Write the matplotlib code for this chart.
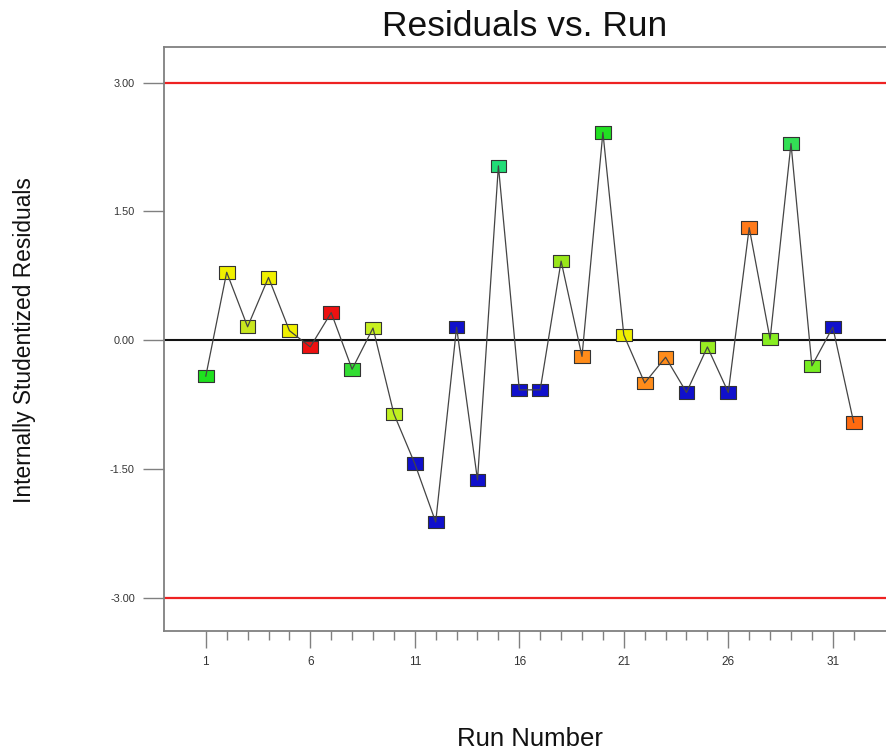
import matplotlib
matplotlib.use("Agg")
import matplotlib.pyplot as plt
import numpy as np

plt.rcParams['font.family'] = ['Liberation Sans', 'DejaVu Sans']

# Residus studentises internes par ordre d'essai
run = np.arange(1, 33)
residuals = [-0.42, 0.79, 0.155, 0.73, 0.11, -0.08, 0.32, -0.34, 0.14, -0.86,
             -1.44, -2.12, 0.15, -1.63, 2.03, -0.58, -0.58, 0.92, -0.19, 2.42,
             0.06, -0.50, -0.20, -0.61, -0.08, -0.61, 1.31, 0.01, 2.29, -0.30,
             0.15, -0.96]
point_colors = ["#1ee01e", "#f0f000", "#c8e61e", "#f0f000", "#f0f000",
                "#ee1111", "#ee1111", "#33dd33", "#c8f020", "#c0f020",
                "#1010cc", "#1010cc", "#1010cc", "#1010cc", "#22dd77",
                "#1010cc", "#1010cc", "#99e619", "#ff8c1a", "#22e022",
                "#f0f000", "#ff8c1a", "#ff8c1a", "#1010cc", "#99ee22",
                "#1010cc", "#ff7a1a", "#88ee22", "#33e055", "#77ee22",
                "#1010cc", "#ff6a10"]
limit = 3.00
y_ticks = [-3.00, -1.50, 0.00, 1.50, 3.00]
x_major = [1, 6, 11, 16, 21, 26, 31]

W, H = 886, 753
fig = plt.figure(figsize=(W / 100, H / 100), dpi=100)
fig.patch.set_facecolor("white")

# axe volontairement plus large que la figure (coupe a droite)
left, right, bottom, top = 164, 920, 631, 47
ax = fig.add_axes([left / W, 1 - bottom / H, (right - left) / W, (bottom - top) / H])
ax.set_xlim(-1.0, -1.0 + (right - left) / 20.9)
ax.set_ylim(-3.39, 3.415)

# limites +/- 3 et ligne zero
ax.axhline(limit, color="#ee2222", lw=1.6, zorder=1)
ax.axhline(-limit, color="#ee2222", lw=1.6, zorder=1)
ax.axhline(0, color="#111111", lw=1.5, zorder=1)

# marqueurs rectangulaires, trait par-dessus
rect = [(-1, -0.8), (1, -0.8), (1, 0.8), (-1, 0.8), (-1, -0.8)]
ax.scatter(run, residuals, marker=rect, s=11.3 ** 2, c=point_colors,
           edgecolors="#333333", linewidths=0.8, zorder=3)
ax.plot(run, residuals, color="#444444", lw=0.9, zorder=4)

for side in ["left", "bottom", "top", "right"]:
    ax.spines[side].set_color("#808080")
    ax.spines[side].set_linewidth(1.3)

ax.set_yticks(y_ticks)
ax.set_yticklabels([f"{v:.2f}" for v in y_ticks])
ax.set_xticks(x_major)
ax.set_xticklabels([str(v) for v in x_major])
ax.set_xticks([v for v in range(1, 33) if v not in x_major], minor=True)
ax.tick_params(axis="y", direction="out", length=15, width=1.0, color="#808080",
               labelsize=7.8, labelcolor="#333333", pad=6)
ax.tick_params(axis="x", which="major", direction="out", length=12, width=1.0,
               color="#808080", labelsize=8.5, labelcolor="#333333", pad=6)
ax.tick_params(axis="x", which="minor", direction="out", length=6.5, width=1.0,
               color="#808080")

fig.text(525 / W, 1 - 27 / H, "Residuals vs. Run", fontsize=25.5,
         ha="center", va="center", color="#111111")
fig.text(530 / W, 1 - 739 / H, "Run Number", fontsize=18.5,
         ha="center", va="center", color="#111111")
fig.text(25 / W, 1 - 340 / H, "Internally Studentized Residuals", fontsize=16.4,
         rotation=90, ha="center", va="center", color="#111111")

fig.savefig("out.png", dpi=100)
